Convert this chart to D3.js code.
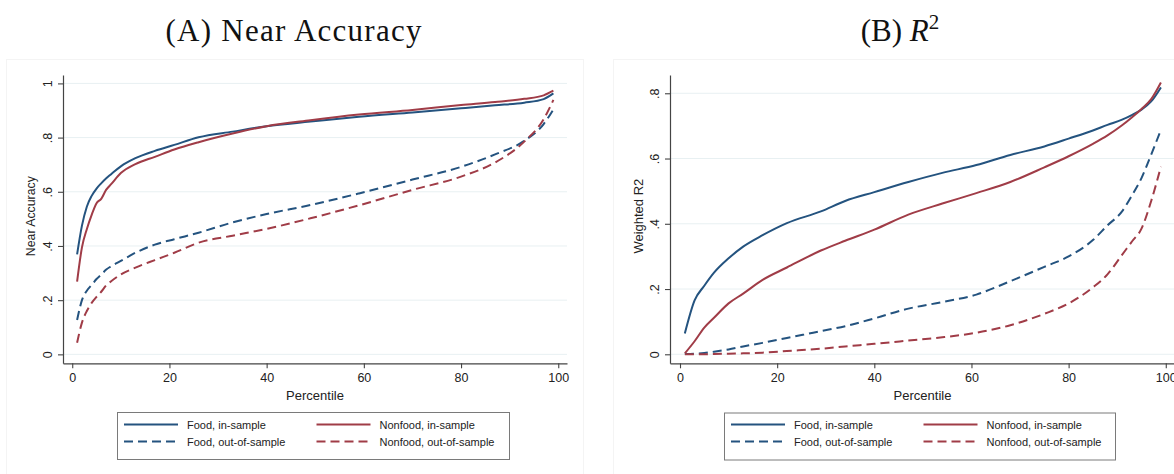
<!DOCTYPE html>
<html>
<head>
<meta charset="utf-8">
<script src="https://cdn.jsdelivr.net/npm/d3@7"></script>
<style>
  html, body { margin: 0; padding: 0; background: #fff; }
  svg { display: block; }
</style>
</head>
<body>
<svg id="chart" width="1174" height="474"></svg>
<script>
// ---------------- DATA ----------------
const seriesNames = ["Food, in-sample", "Nonfood, in-sample", "Food, out-of-sample", "Nonfood, out-of-sample"];
const xTicks = [0, 20, 40, 60, 80, 100];
const yTicksA = [0, 0.2, 0.4, 0.6, 0.8, 1];
const yTicksB = [0, 0.2, 0.4, 0.6, 0.8];

// Panel A: Near Accuracy
const pctA = [1, 2, 3, 4, 5, 6, 7, 8, 10, 13, 17, 21, 26, 33, 40, 49, 59, 70, 80, 87, 93, 97, 99];
const foodInA     = [.369, .475, .545, .585, .612, .632, .650, .665, .694, .724, .751, .773, .801, .822, .842, .859, .877, .893, .908, .919, .929, .942, .963];
const nonfoodInA  = [.268, .395, .462, .515, .558, .575, .608, .628, .669, .702, .729, .756, .783, .815, .842, .864, .885, .902, .920, .931, .943, .956, .973];
const foodOutA    = [.127, .200, .235, .256, .278, .295, .313, .325, .345, .375, .405, .425, .449, .487, .518, .551, .594, .645, .692, .738, .788, .850, .904];
const nonfoodOutA = [.043, .117, .160, .190, .212, .232, .255, .270, .295, .320, .348, .375, .412, .438, .463, .502, .550, .607, .656, .708, .785, .868, .939];

// Panel B: Weighted R2
const pctB = [1, 3, 5, 7, 10, 13, 17, 22, 29, 34, 40, 47, 54, 61, 68, 75, 80, 85, 88, 91, 93, 95, 97, 99];
const foodInB     = [.064, .165, .210, .250, .294, .330, .365, .402, .438, .470, .497, .528, .556, .580, .611, .637, .661, .686, .703, .719, .733, .750, .775, .818];
const nonfoodInB  = [.003, .040, .082, .112, .156, .186, .228, .266, .318, .348, .382, .428, .462, .494, .528, .573, .607, .645, .671, .702, .726, .752, .782, .833];
const foodOutB    = [.001, .002, .004, .008, .015, .024, .035, .050, .071, .086, .110, .140, .160, .183, .224, .268, .300, .350, .395, .438, .486, .540, .612, .688];
const nonfoodOutB = [.000, .000, .000, .001, .002, .003, .005, .010, .017, .024, .032, .042, .052, .066, .089, .124, .156, .205, .245, .305, .345, .385, .470, .575];

// ---------------- STYLE ----------------
const BLUE = "#24537f";
const RED = "#a03c47";
const styles = [
  { color: BLUE, dash: null },
  { color: RED, dash: null },
  { color: BLUE, dash: "9,5" },
  { color: RED, dash: "9,5" }
];
const SANS = "'Liberation Sans', Arial, Helvetica, sans-serif";
const SERIF = "'Liberation Serif', 'Times New Roman', serif";

const svg = d3.select("#chart");

function fmt(d) {
  if (d === 0) return "0";
  if (d === 1) return "1";
  return String(+d.toFixed(2)).replace(/^0\./, ".");
}

function drawPanel(cfg) {
  const g = svg.append("g");
  // outer faint frame
  g.append("rect")
    .attr("x", cfg.frame[0] + 0.5).attr("y", cfg.frame[1] + 0.5)
    .attr("width", cfg.frame[2]).attr("height", cfg.frame[3])
    .attr("fill", "none").attr("stroke", "#f4f4f4").attr("stroke-width", 1);

  const x = d3.scaleLinear().domain(cfg.xDomain).range(cfg.xRange);
  const y = d3.scaleLinear().domain(cfg.yDomain).range(cfg.yRange);

  // gridlines
  g.append("g").selectAll("line").data(cfg.yTicks).join("line")
    .attr("x1", cfg.xRange[0]).attr("x2", cfg.xRange[1])
    .attr("y1", d => y(d)).attr("y2", d => y(d))
    .attr("stroke", "#e8f0f2").attr("stroke-width", 1);

  // axes
  const xAxis = g.append("g").attr("transform", `translate(0,${cfg.yRange[0]})`)
    .call(d3.axisBottom(x).tickValues(xTicks).tickSize(5).tickSizeOuter(0).tickPadding(3).tickFormat(d3.format("d")));
  const yAxis = g.append("g").attr("transform", `translate(${cfg.xRange[0]},0)`)
    .call(d3.axisLeft(y).tickValues(cfg.yTicks).tickSize(5).tickSizeOuter(0).tickFormat(fmt));
  [xAxis, yAxis].forEach(a => {
    a.select(".domain").attr("stroke", "#444").attr("stroke-width", 1.2);
    a.selectAll(".tick line").attr("stroke", "#444").attr("stroke-width", 1.1);
    a.selectAll(".tick text").attr("fill", "#222").style("font-family", SANS).style("font-size", "12.5px");
  });
  xAxis.selectAll(".tick text").attr("dy", null).attr("y", 19);
  yAxis.selectAll(".tick text")
    .attr("x", null).attr("dy", null)
    .attr("transform", d => `translate(-11,0) rotate(-90)`)
    .attr("text-anchor", "middle").attr("y", 0);

  // axis titles
  g.append("text")
    .attr("x", (cfg.xRange[0] + cfg.xRange[1]) / 2).attr("y", 400)
    .attr("text-anchor", "middle").attr("fill", "#222")
    .style("font-family", SANS).style("font-size", "13px")
    .text("Percentile");
  g.append("text")
    .attr("transform", `translate(${cfg.yTitleX},${(cfg.yRange[0] + cfg.yRange[1]) / 2 - 3}) rotate(-90)`)
    .attr("text-anchor", "middle").attr("fill", "#222")
    .style("font-family", SANS).style("font-size", cfg.yTitleSize)
    .text(cfg.yTitle);

  // lines
  const line = d3.line().x(d => x(d[0])).y(d => y(d[1])).curve(d3.curveMonotoneX);
  cfg.series.forEach((vals, i) => {
    const pts = cfg.pct.map((p, j) => [p, vals[j]]);
    g.append("path").datum(pts)
      .attr("d", line)
      .attr("fill", "none")
      .attr("stroke", styles[i].color)
      .attr("stroke-width", 2)
      .attr("stroke-dasharray", styles[i].dash)
      .attr("stroke-linejoin", "round");
  });

  // legend
  const L = cfg.legend;
  g.append("rect")
    .attr("x", L.x + 0.5).attr("y", L.y + 0.5).attr("width", L.w).attr("height", L.h)
    .attr("fill", "#fff").attr("stroke", "#7a7a7a").attr("stroke-width", 1);
  const cols = [L.x + 7, L.x + 199.5];
  const rows = [424.5, 441.5];
  seriesNames.forEach((name, i) => {
    const cx = cols[i % 2], cy = rows[Math.floor(i / 2)];
    g.append("line")
      .attr("x1", cx).attr("x2", cx + 54).attr("y1", cy).attr("y2", cy)
      .attr("stroke", styles[i].color).attr("stroke-width", 2)
      .attr("stroke-dasharray", styles[i].dash);
    g.append("text")
      .attr("x", cx + 63).attr("y", cy + 4.5)
      .attr("fill", "#222").style("font-family", SANS).style("font-size", "11px")
      .text(name);
  });
}

drawPanel({
  frame: [6, 59, 577, 430],
  xDomain: [-1.9, 101.8], xRange: [63, 567],
  yDomain: [-0.033, 1.031], yRange: [363.3, 75],
  yTicks: yTicksA,
  yTitle: "Near Accuracy", yTitleX: 35, yTitleSize: "12.3px",
  pct: pctA,
  series: [foodInA, nonfoodInA, foodOutA, nonfoodOutA],
  legend: { x: 117, y: 412, w: 392, h: 47 }
});

drawPanel({
  frame: [613, 59, 600, 430],
  xDomain: [-2.06, 101.9], xRange: [670, 1175],
  yDomain: [-0.0276, 0.856], yRange: [363.3, 75],
  yTicks: yTicksB,
  yTitle: "Weighted R2", yTitleX: 643, yTitleSize: "13px",
  pct: pctB,
  series: [foodInB, nonfoodInB, foodOutB, nonfoodOutB],
  legend: { x: 724, y: 412.5, w: 391, h: 47 }
});

// Titles
svg.append("text")
  .attr("x", 293.5).attr("y", 41)
  .attr("text-anchor", "middle").attr("fill", "#111")
  .attr("textLength", 256).attr("lengthAdjust", "spacing")
  .style("font-family", SERIF).style("font-size", "31px")
  .text("(A) Near Accuracy");

const tB = svg.append("text")
  .attr("x", 900).attr("y", 41)
  .attr("text-anchor", "middle").attr("fill", "#111")
  .style("font-family", SERIF).style("font-size", "31px");
tB.append("tspan").text("(B) ");
tB.append("tspan").style("font-style", "italic").text("R");
tB.append("tspan").attr("dy", -12).style("font-size", "21px").text("2");
</script>
</body>
</html>
